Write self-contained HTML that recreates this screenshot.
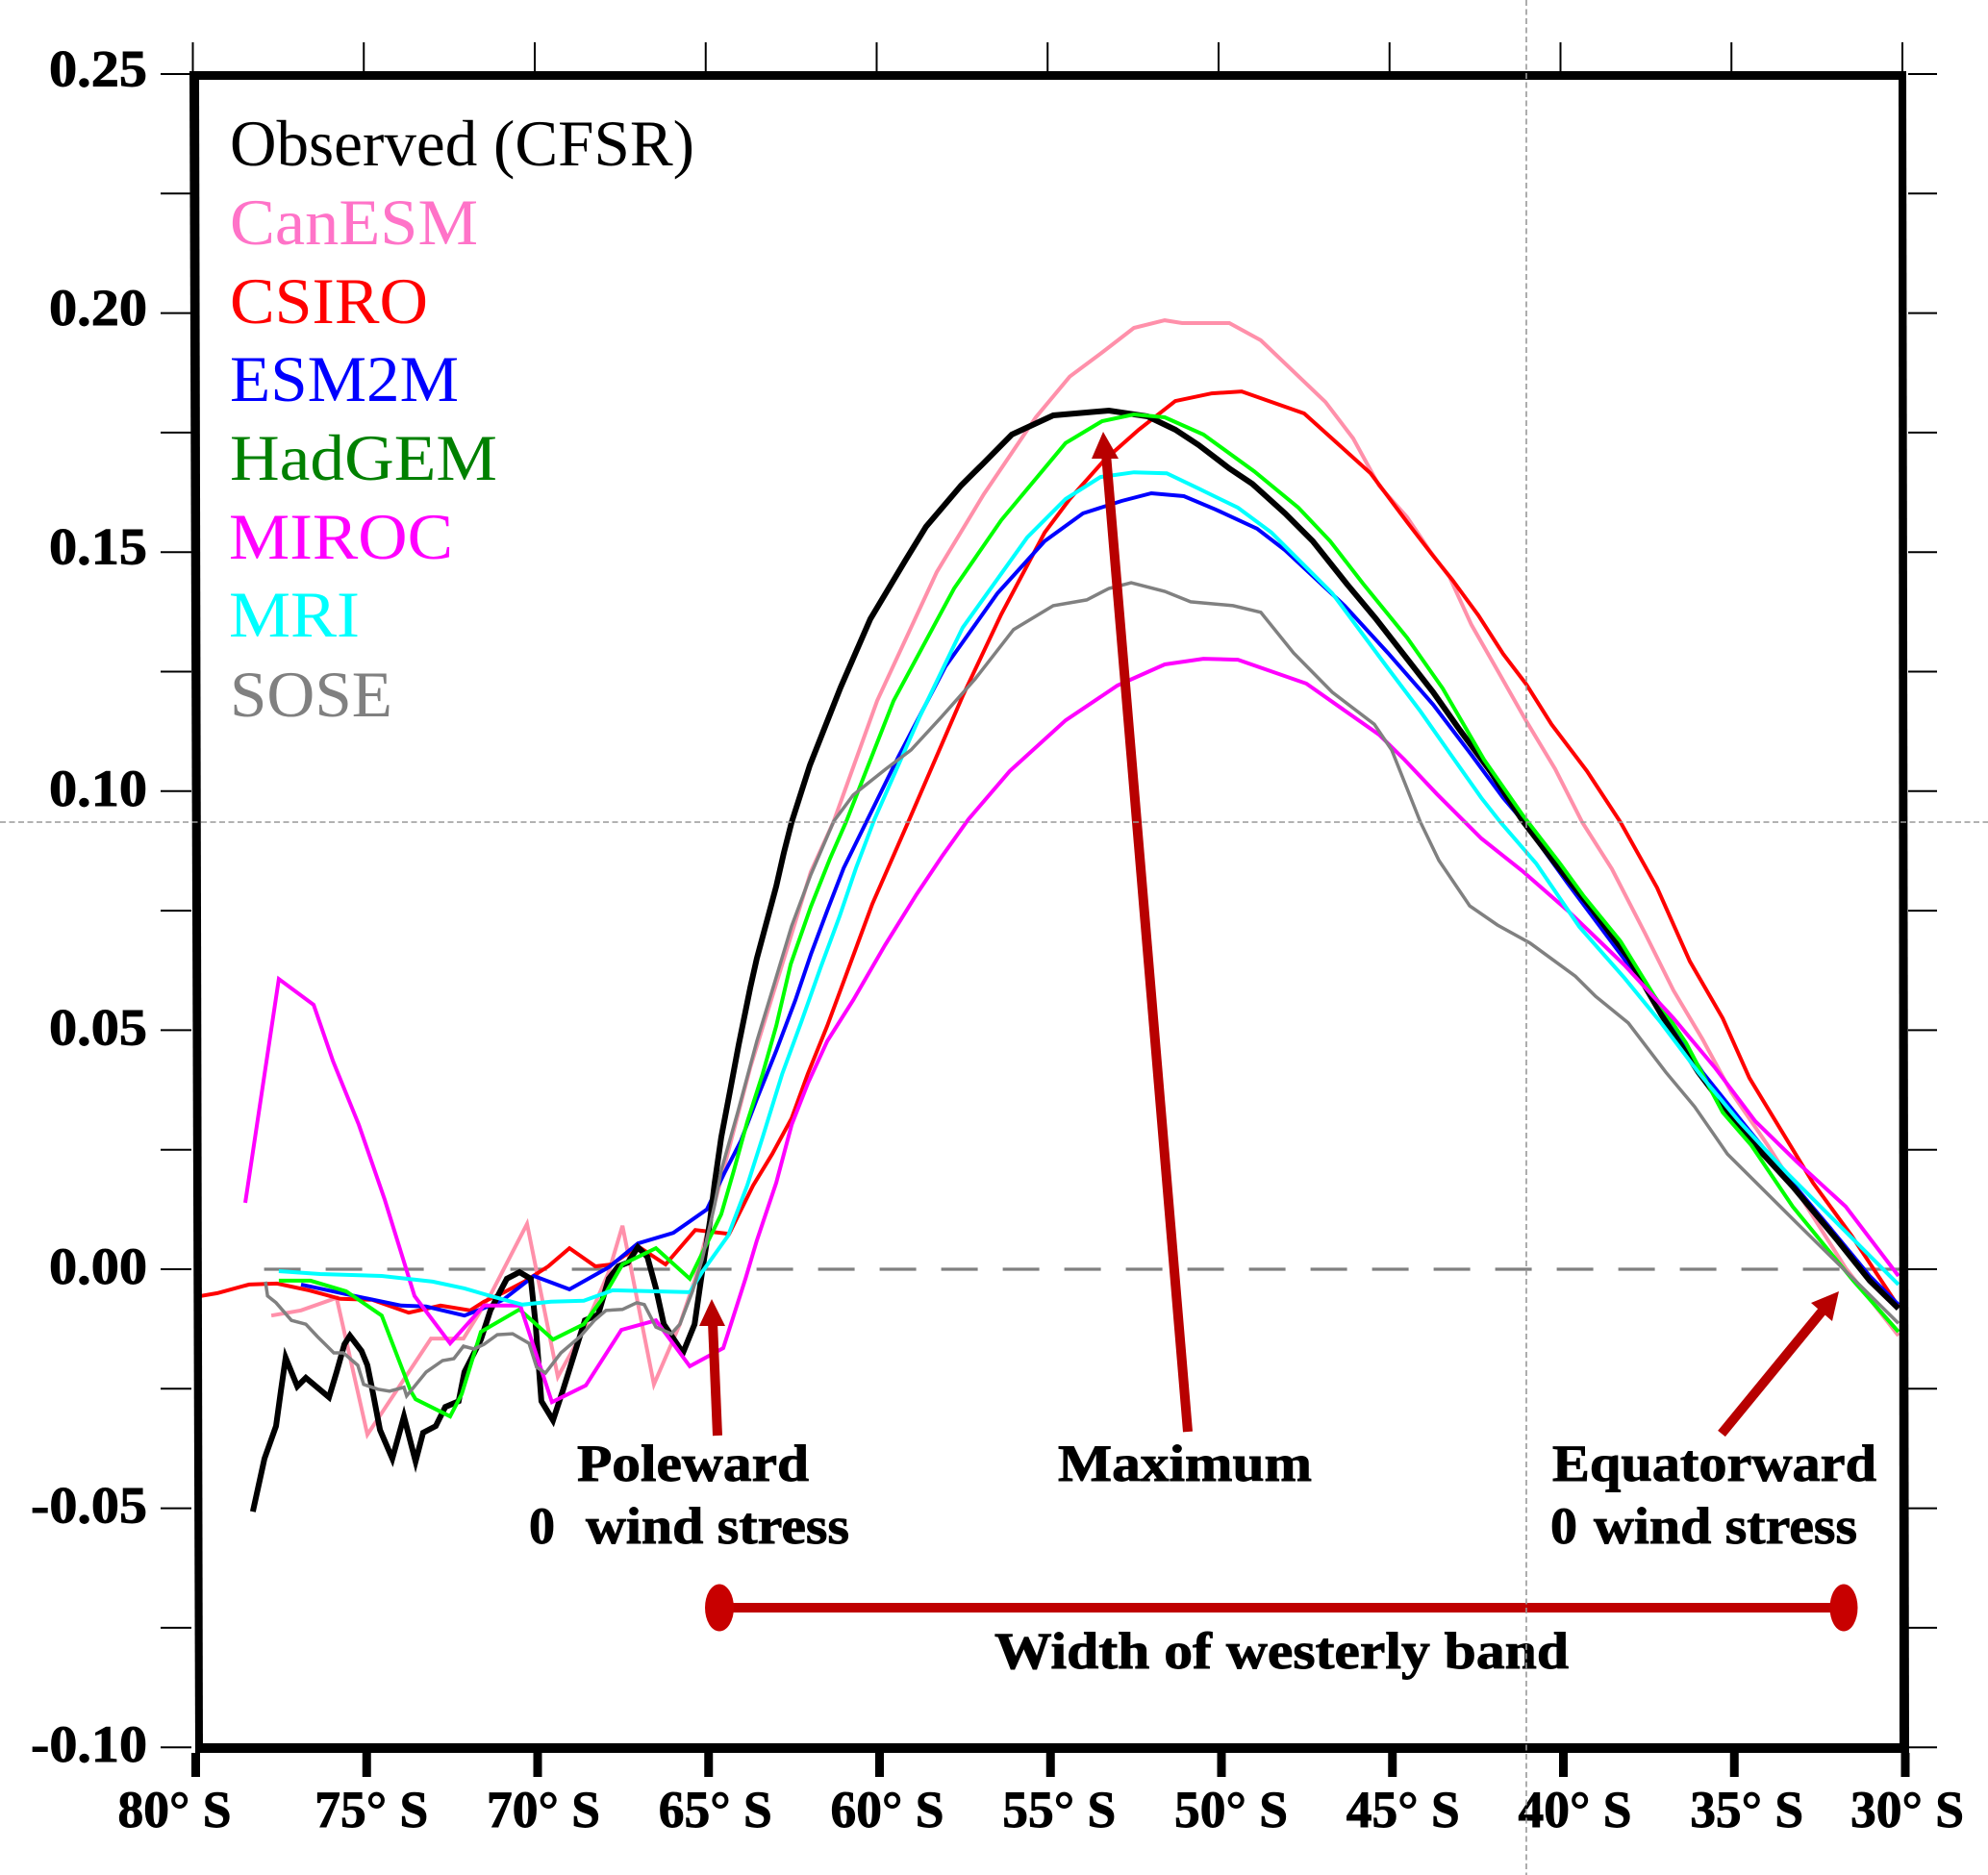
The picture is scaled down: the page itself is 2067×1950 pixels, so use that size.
<!DOCTYPE html>
<html lang="en">
<head>
<meta charset="utf-8">
<title>Zonal wind stress by latitude</title>
<style>
html,body{margin:0;padding:0;background:#fff;}
svg{display:block;}
text{font-family:"Liberation Serif",serif;}
.b{font-weight:bold;fill:#000;font-size:54px;stroke:#000;stroke-width:0.9px;}
.leg{font-size:68px;}
</style>
</head>
<body>
<svg id="chart" xmlns="http://www.w3.org/2000/svg" width="2067" height="1950" viewBox="0 0 2067 1950">
  <rect x="0" y="0" width="2067" height="1950" fill="#fff"/>
  <g id="zero-layer"></g>
  <g id="series-layer"></g>
  <g id="frame-layer">
    <polygon points="197,74 207,74 211,1823 203,1823" fill="#000"/>
    <polygon points="1974,74 1982,74 1985,1823 1975,1823" fill="#000"/>
    <rect x="197" y="74" width="1785" height="9" fill="#000"/>
    <rect x="203" y="1813" width="1782" height="10" fill="#000"/>
  </g>
  <g id="axis-layer"></g>
  <g>
    <text class="leg" x="239" y="172" textLength="483" lengthAdjust="spacingAndGlyphs" fill="#000">Observed (CFSR)</text>
    <text class="leg" x="239" y="254" textLength="258" lengthAdjust="spacingAndGlyphs" fill="#ff73c8">CanESM</text>
    <text class="leg" x="239" y="336" textLength="206" lengthAdjust="spacingAndGlyphs" fill="#ff0000">CSIRO</text>
    <text class="leg" x="239" y="417" textLength="238" lengthAdjust="spacingAndGlyphs" fill="#0000ff">ESM2M</text>
    <text class="leg" x="239" y="499" textLength="278" lengthAdjust="spacingAndGlyphs" fill="#008000">HadGEM</text>
    <text class="leg" x="238" y="581" textLength="233" lengthAdjust="spacingAndGlyphs" fill="#ff00ff">MIROC</text>
    <text class="leg" x="238" y="662" textLength="136" lengthAdjust="spacingAndGlyphs" fill="#00ffff">MRI</text>
    <text class="leg" x="239" y="745" textLength="169" lengthAdjust="spacingAndGlyphs" fill="#808080">SOSE</text>
  </g>
  <g>
    <g>
      <line x1="746" y1="1493" x2="741" y2="1375" stroke="#b80000" stroke-width="10"/>
      <polygon points="740,1351 754,1379 727,1379" fill="#b80000"/>
    </g>
    <g>
      <line x1="1235" y1="1489" x2="1150" y2="472" stroke="#b80000" stroke-width="10"/>
      <polygon points="1147,449 1163,477 1135,477" fill="#b80000"/>
    </g>
    <g>
      <line x1="1790" y1="1491" x2="1895" y2="1363" stroke="#b80000" stroke-width="10"/>
      <polygon points="1912,1343 1905,1374 1883,1355" fill="#b80000"/>
    </g>
    <g>
      <rect x="748" y="1667" width="1169" height="10" fill="#bf0000"/>
      <ellipse cx="748" cy="1672" rx="15" ry="24.5" fill="#c80000"/>
      <ellipse cx="1917" cy="1672" rx="14.5" ry="24.5" fill="#c80000"/>
    </g>
    <text class="b" x="600" y="1540" textLength="241" lengthAdjust="spacingAndGlyphs">Poleward</text>
    <text class="b" x="550" y="1605" textLength="27" lengthAdjust="spacingAndGlyphs">0</text>
    <text class="b" x="609" y="1605" textLength="274" lengthAdjust="spacingAndGlyphs">wind stress</text>
    <text class="b" x="1100" y="1540" textLength="264" lengthAdjust="spacingAndGlyphs">Maximum</text>
    <text class="b" x="1614" y="1540" textLength="337" lengthAdjust="spacingAndGlyphs">Equatorward</text>
    <text class="b" x="1612" y="1605" textLength="28" lengthAdjust="spacingAndGlyphs">0</text>
    <text class="b" x="1657" y="1605" textLength="274" lengthAdjust="spacingAndGlyphs">wind stress</text>
    <text class="b" x="1034" y="1735" textLength="597" lengthAdjust="spacingAndGlyphs">Width of westerly band</text>
  </g>
  <g>
    <line x1="0" y1="855" x2="2067" y2="855" stroke="#999" stroke-width="1.6" stroke-dasharray="6 3.5"/>
    <line x1="1587" y1="0" x2="1587" y2="1950" stroke="#999" stroke-width="1.6" stroke-dasharray="6 3.5"/>
  </g>
</svg>
<script>
const latTicks = [80,75,70,65,60,55,50,45,40,35,30];
const latTickLabels = ["80° S","75° S","70° S","65° S","60° S","55° S","50° S","45° S","40° S","35° S","30° S"];
const valueTicks = [-0.1,-0.075,-0.05,-0.025,0,0.025,0.05,0.075,0.1,0.125,0.15,0.175,0.2,0.225,0.25];
const valueTickLabels = ["-0.10","","-0.05","","0.00","","0.05","","0.10","","0.15","","0.20","","0.25"];

const observedLats = [78.33,77.99,77.65,77.51,77.37,77.03,76.78,76.10,75.88,75.65,75.49,75.15,74.98,74.81,74.61,74.25,73.91,73.57,73.35,72.98,72.70,72.31,72.14,71.94,71.66,71.38,71.15,70.90,70.53,70.20,70.06,69.89,69.55,69.27,68.62,68.23,67.92,67.64,67.36,67.07,66.79,66.54,66.31,65.75,65.41,65.19,64.96,64.82,64.63,64.35,64.12,63.78,63.59,63.31,63.02,62.80,62.57,62.04,61.14,60.27,59.25,58.64,57.62,57.00,56.13,54.92,53.29,52.16,51.35,50.67,49.77,49.10,48.14,47.33,46.34,45.50,44.57,43.81,43.05,42.12,41.20,40.24,39.17,38.10,37.14,36.05,34.61,33.29,32.00,31.04,30.20];
const observedValues = [-0.0507,-0.0396,-0.0328,-0.0255,-0.0185,-0.0245,-0.0227,-0.0268,-0.0215,-0.0157,-0.0139,-0.0171,-0.0201,-0.0261,-0.0336,-0.0396,-0.0308,-0.0402,-0.0342,-0.0328,-0.0288,-0.0276,-0.0215,-0.0187,-0.0147,-0.0086,-0.0054,-0.0020,-0.0006,-0.0020,-0.0115,-0.0276,-0.0316,-0.0255,-0.0107,-0.0095,-0.0020,0.0006,0.0014,0.0046,0.0026,-0.0040,-0.0115,-0.0175,-0.0115,-0.0006,0.0101,0.0181,0.0276,0.0382,0.0469,0.0589,0.0650,0.0724,0.0801,0.0871,0.0935,0.1054,0.1217,0.1360,0.1482,0.1553,0.1639,0.1683,0.1746,0.1786,0.1796,0.1784,0.1756,0.1724,0.1675,0.1643,0.1581,0.1523,0.1434,0.1362,0.1277,0.1207,0.1130,0.1040,0.0939,0.0849,0.0754,0.0652,0.0533,0.0412,0.0276,0.0173,0.0062,-0.0024,-0.0082];

const canesmLats = [77.79,76.92,75.88,74.98,73.12,72.17,71.38,70.31,69.41,68.65,67.92,67.52,67.21,66.60,65.84,65.39,64.96,63.78,62.88,62.01,61.34,60.07,58.33,56.95,55.43,54.44,53.43,52.56,51.66,51.15,49.77,48.85,46.96,46.15,45.39,44.57,43.90,43.33,42.69,41.93,41.08,40.24,39.45,38.58,37.62,36.78,35.93,35.09,34.02,32.95,31.74,30.20];
const canesmValues = [-0.0097,-0.0086,-0.0060,-0.0346,-0.0145,-0.0145,-0.0054,0.0095,-0.0225,-0.0127,-0.0006,0.0091,-0.0020,-0.0241,-0.0115,-0.0020,0.0101,0.0422,0.0630,0.0831,0.0937,0.1189,0.1458,0.1621,0.1782,0.1867,0.1921,0.1969,0.1985,0.1979,0.1979,0.1943,0.1814,0.1738,0.1639,0.1573,0.1502,0.1448,0.1348,0.1253,0.1146,0.1046,0.0935,0.0837,0.0704,0.0583,0.0481,0.0370,0.0259,0.0139,0.0002,-0.0139];

const csiroLats = [79.85,79.37,78.44,77.62,76.69,75.77,74.84,73.77,72.84,71.97,71.57,70.98,70.39,69.69,69.07,68.31,67.83,67.07,66.26,65.39,64.40,63.70,63.14,62.57,62.10,61.53,60.97,60.21,59.14,57.57,56.44,55.17,54.44,53.43,52.42,51.35,50.28,49.41,47.58,45.64,44.57,43.81,43.25,42.49,41.76,41.08,40.35,39.31,38.33,37.26,36.30,35.34,34.56,33.66,32.70,31.57,30.20];
const csiroValues = [-0.0056,-0.0050,-0.0032,-0.0030,-0.0044,-0.0062,-0.0064,-0.0091,-0.0076,-0.0086,-0.0068,-0.0048,-0.0026,0.0006,0.0044,0.0006,0.0010,0.0048,0.0010,0.0082,0.0074,0.0175,0.0241,0.0316,0.0408,0.0509,0.0617,0.0764,0.0939,0.1199,0.1370,0.1541,0.1611,0.1692,0.1756,0.1816,0.1832,0.1836,0.1790,0.1665,0.1563,0.1492,0.1442,0.1368,0.1287,0.1223,0.1140,0.1042,0.0935,0.0798,0.0644,0.0525,0.0400,0.0294,0.0181,0.0070,-0.0078];

const esm2mLats = [76.92,75.60,73.99,73.26,72.14,71.38,71.01,70.11,69.07,67.92,67.07,66.03,65.05,64.54,64.06,63.59,63.02,62.46,62.01,61.53,61.05,60.35,59.45,58.07,56.55,55.17,54.05,52.92,52.05,51.10,50.17,48.96,48.14,46.40,45.13,43.81,42.69,41.76,41.20,39.87,38.21,37.00,35.93,34.61,33.43,32.22,31.04,30.20];
const esm2mValues = [-0.0032,-0.0052,-0.0076,-0.0078,-0.0097,-0.0076,-0.0064,-0.0014,-0.0042,0.0004,0.0054,0.0076,0.0125,0.0201,0.0268,0.0356,0.0457,0.0563,0.0658,0.0750,0.0839,0.0941,0.1072,0.1261,0.1414,0.1523,0.1581,0.1607,0.1623,0.1617,0.1589,0.1549,0.1504,0.1388,0.1289,0.1181,0.1076,0.0986,0.0939,0.0807,0.0648,0.0529,0.0412,0.0294,0.0191,0.0088,-0.0014,-0.0074];

const hadgemLats = [77.57,76.64,75.60,74.56,73.71,73.57,72.56,72.22,71.66,70.53,69.55,68.65,68.09,67.52,66.54,65.55,64.63,64.26,63.87,63.42,63.02,62.60,62.01,61.45,60.97,59.59,57.82,56.44,54.56,53.49,52.56,51.66,50.53,49.04,47.75,46.82,45.86,44.57,43.53,42.32,41.20,40.10,39.40,38.33,37.37,36.41,35.34,34.50,33.29,31.52,30.20];
const hadgemValues = [-0.0024,-0.0024,-0.0046,-0.0097,-0.0255,-0.0272,-0.0308,-0.0261,-0.0131,-0.0084,-0.0147,-0.0115,-0.0060,0.0010,0.0044,-0.0020,0.0115,0.0207,0.0308,0.0408,0.0509,0.0638,0.0758,0.0859,0.0937,0.1189,0.1424,0.1567,0.1728,0.1774,0.1788,0.1782,0.1746,0.1669,0.1593,0.1523,0.1434,0.1321,0.1215,0.1066,0.0951,0.0849,0.0780,0.0686,0.0575,0.0473,0.0328,0.0259,0.0131,-0.0024,-0.0131];

const mirocLats = [78.55,77.57,76.55,75.99,75.23,74.47,73.60,72.56,71.57,70.51,69.58,68.59,67.55,66.54,65.55,64.57,63.92,63.59,63.02,62.57,62.10,61.53,60.77,59.84,58.92,58.16,57.40,56.19,54.56,53.04,51.66,50.53,49.52,47.52,45.39,44.65,43.70,42.40,41.20,39.87,38.21,36.78,35.57,34.39,33.18,31.74,30.20];
const mirocValues = [0.0139,0.0607,0.0553,0.0436,0.0302,0.0145,-0.0056,-0.0155,-0.0076,-0.0076,-0.0278,-0.0243,-0.0127,-0.0107,-0.0203,-0.0165,-0.0020,0.0060,0.0181,0.0302,0.0388,0.0477,0.0563,0.0678,0.0784,0.0865,0.0941,0.1042,0.1148,0.1221,0.1265,0.1277,0.1275,0.1225,0.1118,0.1066,0.0994,0.0901,0.0833,0.0750,0.0636,0.0525,0.0422,0.0310,0.0225,0.0131,-0.0014];

const mriLats = [77.57,76.36,74.56,73.07,72.14,71.38,70.45,69.61,68.65,67.81,66.68,65.55,65.19,64.43,63.87,63.42,62.85,62.29,61.73,61.17,60.69,60.15,58.83,57.57,55.68,54.56,53.54,52.56,51.60,50.67,49.52,48.54,46.76,45.13,44.18,43.25,42.40,41.84,40.80,39.53,38.21,37.14,36.05,34.87,33.43,32.00,30.20];
const mriValues = [-0.0004,-0.0010,-0.0014,-0.0026,-0.0040,-0.0056,-0.0074,-0.0068,-0.0066,-0.0044,-0.0046,-0.0048,-0.0006,0.0070,0.0175,0.0276,0.0408,0.0517,0.0630,0.0738,0.0839,0.0941,0.1155,0.1342,0.1531,0.1611,0.1657,0.1667,0.1665,0.1633,0.1593,0.1541,0.1414,0.1257,0.1167,0.1072,0.0986,0.0935,0.0849,0.0716,0.0609,0.0515,0.0412,0.0310,0.0199,0.0097,-0.0032];

const soseLats = [77.96,77.90,77.65,77.20,76.78,76.44,75.96,75.68,75.26,75.09,74.67,74.33,73.91,73.83,73.26,72.78,72.45,72.17,71.86,71.57,71.18,70.73,70.25,70.03,69.77,69.32,68.76,68.34,68.00,67.52,67.10,66.88,66.54,66.09,65.84,65.47,65.19,64.82,64.63,64.15,63.59,63.14,62.57,62.01,61.34,60.77,59.82,59.08,58.19,57.20,56.08,54.92,53.94,53.29,52.64,51.66,50.90,49.66,48.85,47.89,46.76,45.53,45.02,44.18,43.64,42.74,41.93,40.97,39.65,39.06,38.10,37.00,36.16,35.20,33.29,32.00,30.20];
const soseValues = [-0.0026,-0.0056,-0.0070,-0.0107,-0.0115,-0.0141,-0.0175,-0.0175,-0.0201,-0.0241,-0.0251,-0.0255,-0.0247,-0.0265,-0.0215,-0.0191,-0.0187,-0.0161,-0.0167,-0.0157,-0.0137,-0.0135,-0.0155,-0.0205,-0.0217,-0.0175,-0.0141,-0.0107,-0.0086,-0.0084,-0.0070,-0.0074,-0.0121,-0.0135,-0.0115,-0.0046,0.0020,0.0135,0.0207,0.0328,0.0477,0.0583,0.0718,0.0825,0.0937,0.0992,0.1046,0.1086,0.1155,0.1235,0.1338,0.1388,0.1400,0.1424,0.1436,0.1418,0.1396,0.1388,0.1374,0.1289,0.1207,0.1140,0.1086,0.0935,0.0855,0.0760,0.0720,0.0682,0.0613,0.0571,0.0515,0.0412,0.0340,0.0241,0.0105,0.0014,-0.0113];

const SVG_NS = "http://www.w3.org/2000/svg";
function xScale(lat){ return 203.5 + (80 - lat) * 35.55; }
function yScale(v){ return 1320 - v * 4972; }

const seriesLayer = document.getElementById("series-layer");
const axisLayer = document.getElementById("axis-layer");
const zeroLayer = document.getElementById("zero-layer");

function makeLine(x1, y1, x2, y2, color, width){
  const el = document.createElementNS(SVG_NS, "line");
  el.setAttribute("x1", x1);
  el.setAttribute("y1", y1);
  el.setAttribute("x2", x2);
  el.setAttribute("y2", y2);
  el.setAttribute("stroke", color);
  el.setAttribute("stroke-width", width);
  return el;
}

function makePath(lats, values, color, width){
  const el = document.createElementNS(SVG_NS, "polyline");
  const pts = lats.map(function(lat, i){ return xScale(lat).toFixed(1) + "," + yScale(values[i]).toFixed(1); });
  el.setAttribute("points", pts.join(" "));
  el.setAttribute("fill", "none");
  el.setAttribute("stroke", color);
  el.setAttribute("stroke-width", width);
  el.setAttribute("stroke-linejoin", "miter");
  return el;
}

const zeroLine = makeLine(xScale(78), yScale(0), 1975, yScale(0), "#808080", 3.2);
zeroLine.setAttribute("stroke-dasharray", "38 26");


zeroLayer.appendChild(zeroLine);

const canesmLine = makePath(canesmLats, canesmValues, "#ff90aa", 4);


seriesLayer.appendChild(canesmLine);

const csiroLine = makePath(csiroLats, csiroValues, "#ff0000", 4);


seriesLayer.appendChild(csiroLine);

const esm2mLine = makePath(esm2mLats, esm2mValues, "#0000ff", 4);


seriesLayer.appendChild(esm2mLine);

const observedLine = makePath(observedLats, observedValues, "#000000", 6);


seriesLayer.appendChild(observedLine);

const hadgemLine = makePath(hadgemLats, hadgemValues, "#00ff00", 4);


seriesLayer.appendChild(hadgemLine);

const mirocLine = makePath(mirocLats, mirocValues, "#ff00ff", 4);


seriesLayer.appendChild(mirocLine);

const mriLine = makePath(mriLats, mriValues, "#00ffff", 4);


seriesLayer.appendChild(mriLine);

const soseLine = makePath(soseLats, soseValues, "#808080", 3.5);


seriesLayer.appendChild(soseLine);

latTicks.forEach(function(lat, i){
  const x = xScale(lat);
  const bottomTick = makeLine(x, 1823, x, 1848, "#000", 9);
  
  
  axisLayer.appendChild(bottomTick);

  const topTick = makeLine(x - 3, 44, x - 3, 74, "#000", 2);
  
  
  axisLayer.appendChild(topTick);

  let center = x + 4 + (80 - lat) * 0.2;
  if (i === 0) center = x - 22;
  if (i === latTicks.length - 1) center = x + 2;
  const label = document.createElementNS(SVG_NS, "text");
  label.setAttribute("x", (center - 59).toFixed(1));
  label.setAttribute("y", 1900);
  label.setAttribute("class", "b");
  label.setAttribute("textLength", 118);
  label.setAttribute("lengthAdjust", "spacingAndGlyphs");
  
  
  label.textContent = latTickLabels[i];
  axisLayer.appendChild(label);
});

valueTicks.forEach(function(v, i){
  const y = yScale(v);
  const leftTick = makeLine(167, y, 199, y, "#000", 2);
  
  
  axisLayer.appendChild(leftTick);

  const rightTick = makeLine(1984, y, 2014, y, "#000", 2);
  
  
  axisLayer.appendChild(rightTick);

  const text = valueTickLabels[i];
  if (text) {
    const negative = v < 0;
    const label = document.createElementNS(SVG_NS, "text");
    label.setAttribute("x", negative ? 32 : 51);
    label.setAttribute("y", (y + (v > 0.1 ? 12.5 : 15)).toFixed(1));
    label.setAttribute("class", "b");
    label.setAttribute("textLength", negative ? 121 : 102);
    label.setAttribute("lengthAdjust", "spacingAndGlyphs");
    
    
    label.textContent = text;
    axisLayer.appendChild(label);
  }
});
</script>
</body>
</html>
